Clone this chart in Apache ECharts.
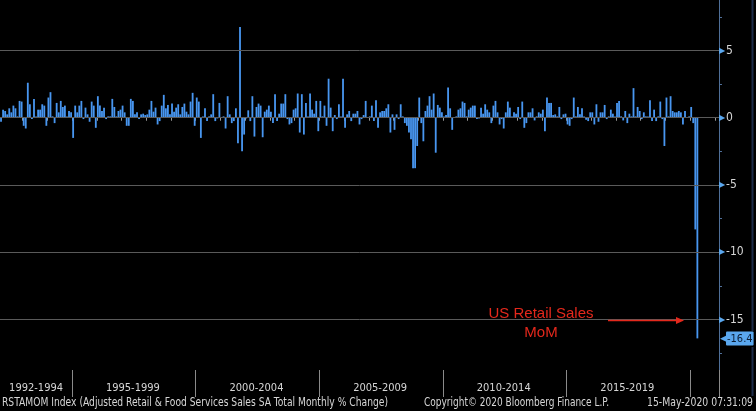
<!DOCTYPE html>
<html><head><meta charset="utf-8">
<script src="https://cdn.jsdelivr.net/npm/echarts@6/dist/echarts.min.js"></script>
<style>html,body{margin:0;padding:0;background:#000;}#c{width:756px;height:411px;}</style>
</head><body><div id="c"></div>
<script>
// Monthly categories: Feb 1992 onward (axis extends past the last data point)
const startYear = 1992, startMonth = 2, categoryCount = 349;

// RSTAMOM Index, monthly % change
const mom_1992_1997 = [-0.3,0.6,0.5,0.25,0.7,0.4,0.9,0.7,0.1,1.25,
  1.2,-0.6,-0.8,2.6,1.0,-0.1,1.4,0.1,0.6,0.6,
  1.0,0.9,-0.6,1.5,1.9,0.1,-0.4,1.1,0.4,1.25,
  0.8,0.9,0.1,0.5,0.4,-1.5,0.9,0.4,0.9,1.25,
  -0.1,0.75,0.25,-0.3,1.2,0.9,-0.75,1.6,0.9,0.5,
  0.75,-0.1,0.1,0.1,1.4,0.8,0.1,0.5,0.6,0.9,
  0.4,-0.6,-0.6,1.4,1.25,0.25,0.4,-0.1,0.25,0.3];
const mom_1997_2003 = [0.2,0.25,0.6,1.25,0.45,0.75,-0.5,-0.25,0.9,1.7,
  0.7,0.95,0.25,1.05,0.45,0.75,1.0,0.25,0.8,1.05,
  0.45,0.25,1.2,1.85,-0.6,1.5,1.2,-1.5,0.1,0.7,
  -0.25,0.1,0.25,1.75,-0.25,-0.05,1.1,0.05,0.1,-0.8,
  1.6,0.25,-0.4,-0.25,0.7,-1.9,6.75,-2.5,-1.25,-0.05,
  0.55,-0.25,1.6,-1.4,0.8,1.05,0.9,-1.45,0.45,0.6,
  0.9,0.45,-0.4,1.75,-0.25,0.3,1.05,1.05,1.75,-0.1,-0.5];
const mom_2003_2009 = [-0.4,0.6,0.7,1.8,-1.1,1.75,-1.25,1.1,0.1,1.8,
  0.6,0.3,1.25,-1.0,1.25,0.1,0.9,-0.6,2.9,0.75,
  -1.0,0.2,-0.1,1.0,0.1,2.9,-0.75,0.25,0.5,-0.25,
  0.3,0.3,0.5,-0.5,-0.1,0.2,1.25,0.05,0.1,0.9,
  -0.25,1.3,-0.75,0.4,0.5,0.5,0.7,1.0,-1.1,0.25,
  -0.9,0.25,-0.1,1.0,0.1,-0.4,-0.6,-1.1,-1.6,-3.75,
  -3.75,-2.1,1.5,-0.4,-1.75,0.5,0.9,1.6,0.6,1.8];
const mom_2009_2015 = [-2.6,0.95,0.75,0.4,0.1,0.2,2.25,0.7,-0.9,0.05,
  0.1,0.6,0.7,1.2,1.1,0.1,0.6,0.75,0.9,0.9,
  -0.1,-0.05,0.75,0.3,1.0,0.6,0.4,-0.4,0.9,1.25,
  0.4,-0.5,-0.1,-0.8,0.4,1.2,0.75,0.1,0.4,0.3,
  0.8,-0.1,1.2,-0.75,-0.4,0.4,0.4,0.7,-0.2,0.1,
  0.4,0.3,0.6,-1.0,1.5,1.1,1.1,0.2,0.25,0.1,
  0.8,-0.1,0.25,0.3,-0.5,-0.6,-0.1,1.5,0.1,0.8,0.25];
const mom_2015_2020 = [0.7,0.1,-0.15,-0.25,0.4,0.4,-0.5,1.0,-0.3,0.4,
  0.4,0.95,-0.1,0.1,0.6,0.3,0.1,1.1,1.25,0.1,
  -0.2,0.5,-0.4,0.3,0.1,2.2,0.1,0.8,0.5,-0.1,
  0.4,0.1,0.1,1.3,-0.25,0.6,-0.25,0.1,1.2,-0.1,
  -2.1,1.5,0.1,1.6,0.5,0.4,0.4,0.5,0.4,-0.5,
  0.5,0.05,0.1,0.8,-0.4,-8.3,-16.4];

// Axis text
const periodLabels = ['1992-1994','1995-1999','2000-2004','2005-2009','2010-2014','2015-2019'];
const periodLabelMonths = ['1993-07','1997-06','2002-06','2007-06','2012-06','2017-06'];
const yTickValues = [-17.5,-15,-12.5,-10,-7.5,-5,-2.5,0,2.5,5,7.5];
const yLabelValues = [-15,-10,-5,0,5];
const footerLeft = 'RSTAMOM Index (Adjusted Retail & Food Services Sales SA Total Monthly % Change)';
const footerMid = 'Copyright\u00A9 2020 Bloomberg Finance L.P.';
const footerRight = '15-May-2020 07:31:09';
const annotationText = 'US Retail Sales\nMoM';

const momValues = [].concat(mom_1992_1997, mom_1997_2003, mom_2003_2009, mom_2009_2015, mom_2015_2020);
const categories = [];
for (let k = 0; k < categoryCount; k++) {
  const m0 = startMonth - 1 + k;
  const y = startYear + Math.floor(m0 / 12);
  const m = (m0 % 12) + 1;
  categories.push(y + '-' + (m < 10 ? '0' + m : '' + m));
}
const lastValue = momValues[momValues.length - 1];

const AXIS = '#4f6f98';
const TXT = '#d6d6d6';
const NARROW = '"DejaVu Sans Condensed","Liberation Sans Narrow",sans-serif';
const FOOTFONT = '12px ' + NARROW;
const RED = '#e4281c';
const BLUE = '#5aa7ee';

// horizontal squeeze so footer strings fit their slots
const mctx = document.createElement('canvas').getContext('2d');
mctx.font = FOOTFONT;
function fitScale(text, target) { const w = mctx.measureText(text).width; return w > 0 ? Math.min(1, target / w) : 1; }

const chart = echarts.init(document.getElementById('c'), null, {renderer: 'canvas'});
chart.setOption({
  backgroundColor: '#000',
  animation: false,
  grid: {left: 0, right: 37, top: 0, bottom: 41, containLabel: false},
  xAxis: [{
    type: 'category', data: categories, boundaryGap: true, position: 'bottom',
    axisLine: {show: true, lineStyle: {color: AXIS, width: 1}},
    axisTick: {show: true, length: 3, interval: (i, v) => v.endsWith('-01'), lineStyle: {color: '#9a9a9a'}},
    axisLabel: {show: true, interval: (i, v) => periodLabelMonths.indexOf(v) >= 0,
      formatter: v => { const j = periodLabelMonths.indexOf(v); return j >= 0 ? periodLabels[j] : ''; },
      color: TXT, fontFamily: NARROW, fontSize: 11, margin: 13},
    splitLine: {show: false}
  }, {
    type: 'category', data: categories, boundaryGap: true, position: 'bottom',
    axisLine: {show: false},
    axisTick: {show: true, length: 27,
      interval: (i, v) => v.endsWith('-01') && (+v.slice(0, 4)) % 5 === 0,
      lineStyle: {color: '#8a8a8a'}},
    axisLabel: {show: false}, splitLine: {show: false}
  }],
  yAxis: {
    type: 'value', position: 'right', min: -18.75, max: 8.75, interval: 1.25,
    axisLine: {show: true, lineStyle: {color: AXIS, width: 1}},
    axisTick: {show: true, length: 3, customValues: yTickValues, lineStyle: {color: AXIS}},
    axisLabel: {show: true, customValues: yLabelValues, margin: 0,
      formatter: v => yLabelValues.indexOf(v) >= 0 ? '{t|\u25B6}{v|' + v + '}' : '',
      rich: {t: {color: BLUE, fontSize: 8, padding: [0, 1, 0, 0]},
             v: {color: TXT, fontSize: 12, fontFamily: NARROW}}},
    splitLine: {show: false}
  },
  series: [{
    type: 'line', data: [], z: 1, silent: true,
    markLine: {silent: true, symbol: 'none', animation: false,
      lineStyle: {color: '#5a5a5a', width: 1, type: 'solid'},
      label: {show: false},
      data: yLabelValues.map(v => ({yAxis: v}))}
  }, {
    type: 'bar', data: momValues, z: 3, xAxisIndex: 0,
    barCategoryGap: '12%',
    itemStyle: {color: '#4896f0'},
    markLine: {silent: true, symbol: 'none', animation: false,
      lineStyle: {color: 'rgba(0,0,0,0)', width: 0},
      label: {show: true, position: 'end', distance: 1,
        formatter: () => '{p|\u25C0}{v|' + lastValue + '}',
        rich: {p: {color: BLUE, fontSize: 9, padding: [0, -1, 0, 0]},
               v: {color: '#0b1c33', backgroundColor: BLUE, fontSize: 11, fontFamily: NARROW,
                   padding: [2, 1, 1, 1], borderRadius: 1}}},
      data: [{yAxis: lastValue}]}
  }],
  graphic: [
    {type: 'text', x: 541, y: 304, style: {text: annotationText, fill: RED,
      font: '15px "Liberation Sans", Arial, sans-serif', align: 'center', lineHeight: 19}, z: 10},
    {type: 'line', shape: {x1: 608, y1: 320.5, x2: 677, y2: 320.5}, style: {stroke: RED, lineWidth: 1.6}, z: 10},
    {type: 'polygon', shape: {points: [[676, 317], [684, 320.5], [676, 324]]}, style: {fill: RED}, z: 10},
    {type: 'line', shape: {x1: 752.5, y1: 0, x2: 752.5, y2: 331}, style: {stroke: '#1c2b48', lineWidth: 2}, z: 1},
    {type: 'line', shape: {x1: 752.5, y1: 347, x2: 752.5, y2: 396}, style: {stroke: '#1c2b48', lineWidth: 2}, z: 1},
    {type: 'text', x: 2, y: 403, scaleX: fitScale(footerLeft, 386),
      style: {text: footerLeft, fill: TXT, font: FOOTFONT, verticalAlign: 'middle'}},
    {type: 'text', x: 424, y: 403, scaleX: fitScale(footerMid, 185),
      style: {text: footerMid, fill: TXT, font: FOOTFONT, verticalAlign: 'middle'}},
    {type: 'text', x: 753, y: 403, scaleX: fitScale(footerRight, 106),
      style: {text: footerRight, fill: TXT, font: FOOTFONT, align: 'right', verticalAlign: 'middle'}}
  ]
});
</script></body></html>
